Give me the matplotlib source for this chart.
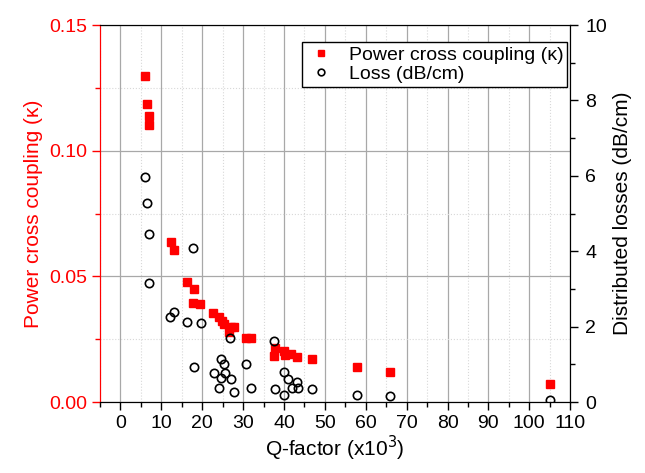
import matplotlib
matplotlib.use("Agg")
import matplotlib.pyplot as plt
from matplotlib.ticker import MultipleLocator

plt.rcParams['font.family'] = ['Liberation Sans', 'DejaVu Sans']

# power cross coupling vs Q-factor (x10^3)
q_kappa = [5.9, 6.6, 7.0, 7.1, 12.3, 13.0, 16.2, 18.1, 17.7, 19.5,
           22.6, 24.2, 24.9, 25.3, 27.0, 27.9, 26.6, 30.8, 31.9,
           37.8, 37.5, 39.9, 40.2, 41.7, 43.3, 46.9, 57.8, 65.9, 105.0]
kappa = [0.1297, 0.1185, 0.1138, 0.1101, 0.0636, 0.0606, 0.0476, 0.0451, 0.0395, 0.0390,
         0.0353, 0.0340, 0.0324, 0.0310, 0.0300, 0.0300, 0.0280, 0.0256, 0.0256,
         0.0214, 0.0184, 0.0203, 0.0188, 0.0190, 0.0179, 0.0170, 0.0138, 0.0119, 0.0072]

# distributed losses vs Q-factor
q_loss = [5.9, 6.5, 6.9, 17.8, 7.1, 13.0, 12.2, 16.2, 19.6, 26.9,
          37.5, 18.1, 24.7, 25.3, 22.8, 25.6, 24.7, 27.1, 24.2, 27.8,
          30.6, 31.9, 37.8, 39.9, 41.0, 39.9, 43.1, 42.0, 43.5, 46.9,
          57.8, 65.9, 105.0]
loss = [5.98, 5.27, 4.46, 4.08, 3.15, 2.39, 2.26, 2.13, 2.10, 1.69,
        1.63, 0.92, 1.14, 1.02, 0.78, 0.76, 0.65, 0.61, 0.37, 0.27,
        1.02, 0.38, 0.35, 0.80, 0.62, 0.19, 0.52, 0.38, 0.38, 0.35,
        0.19, 0.16, 0.05]

fig = plt.figure(figsize=(6.45, 4.73), dpi=100)
ax = fig.add_axes([0.155, 0.150, 0.729, 0.797])
ax2 = ax.twinx()

ax.set_xlim(-5, 110)
ax.set_ylim(0, 0.15)
ax2.set_ylim(0, 10)

ax.xaxis.set_major_locator(MultipleLocator(10))
ax.xaxis.set_minor_locator(MultipleLocator(5))
ax.yaxis.set_major_locator(MultipleLocator(0.05))
ax.yaxis.set_minor_locator(MultipleLocator(0.025))
ax2.yaxis.set_major_locator(MultipleLocator(2))
ax2.yaxis.set_minor_locator(MultipleLocator(1))

ax.grid(which='major', color='#a8a8a8', linewidth=0.9)
ax.grid(which='minor', color='#d8d8d8', linewidth=0.8, linestyle=':')
ax.set_axisbelow(True)

p1, = ax.plot(q_kappa, kappa, 's', color='red', markersize=5.5, linestyle='none',
              label='Power cross coupling (\u03ba)', zorder=3)
p2, = ax2.plot(q_loss, loss, 'o', markerfacecolor='none', markeredgecolor='black',
               markersize=6, markeredgewidth=1.2, linestyle='none',
               label='Loss (dB/cm)', zorder=3)

ax.yaxis.set_major_formatter(plt.FormatStrFormatter('%.2f'))

red = 'red'
ax.spines['left'].set_color(red)
ax2.spines['left'].set_color(red)
ax.tick_params(axis='y', which='both', colors=red, labelsize=14)
ax.tick_params(axis='x', which='both', labelsize=14)
ax.tick_params(which='major', length=6, width=1, direction='out')
ax.tick_params(which='minor', length=3.5, width=1, direction='out')
ax2.tick_params(which='major', length=6, width=1, direction='out', labelsize=14, pad=5)
ax2.tick_params(which='minor', length=3.5, width=1, direction='out')

ax.set_xlabel('Q-factor (x10$^3$)', fontsize=15, labelpad=1)
ax.set_ylabel('Power cross coupling (\u03ba)', fontsize=15, color=red)
ax2.set_ylabel('Distributed losses (dB/cm)', fontsize=15)

leg = ax.legend(handles=[p1, p2], loc='upper right', bbox_to_anchor=(0.9936, 0.955),
                fontsize=14, frameon=True, fancybox=False, edgecolor='black',
                framealpha=1, borderaxespad=0, borderpad=0.2, labelspacing=0.1,
                handlelength=1.6, handletextpad=0.6, markerscale=0.8)
leg.get_frame().set_linewidth(1.0)

fig.savefig('out.png', dpi=100)
